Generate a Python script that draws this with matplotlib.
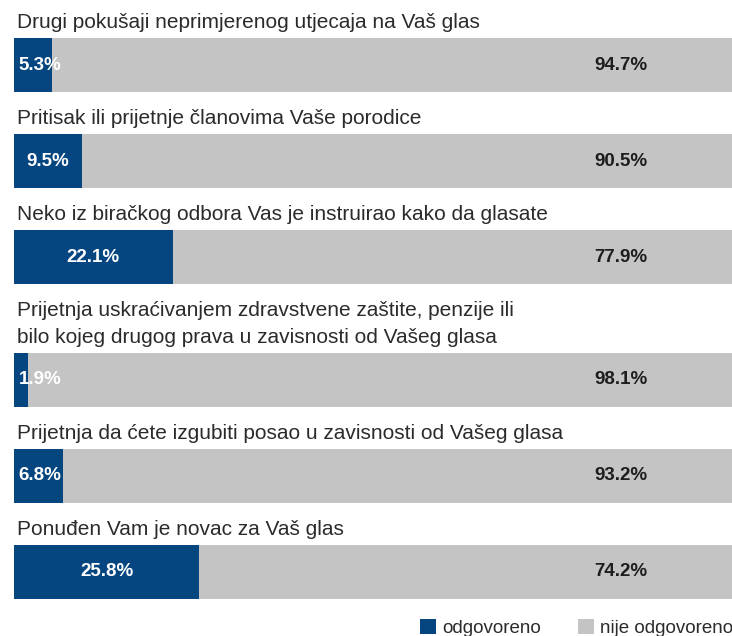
import matplotlib
matplotlib.use("Agg")
import matplotlib.pyplot as plt
from matplotlib.patches import Patch

plt.rcParams['font.family'] = ['Liberation Sans', 'DejaVu Sans']

titles = [
    ["Drugi pokušaji neprimjerenog utjecaja na Vaš glas"],
    ["Pritisak ili prijetnje članovima Vaše porodice"],
    ["Neko iz biračkog odbora Vas je instruirao kako da glasate"],
    ["Prijetnja uskraćivanjem zdravstvene zaštite, penzije ili",
     "bilo kojeg drugog prava u zavisnosti od Vašeg glasa"],
    ["Prijetnja da ćete izgubiti posao u zavisnosti od Vašeg glasa"],
    ["Ponuđen Vam je novac za Vaš glas"],
]
answered = [5.3, 9.5, 22.1, 1.9, 6.8, 25.8]
not_answered = [94.7, 90.5, 77.9, 98.1, 93.2, 74.2]
series_names = ["odgovoreno", "nije odgovoreno"]

BLUE = "#054580"
GREY = "#c4c4c4"
TITLE_COL = "#2b2b2b"

W, H = 732, 636
fig = plt.figure(figsize=(W / 100, H / 100), dpi=100)
left_px = 14
ax = fig.add_axes([left_px / W, 0, (W - left_px) / W, 1])
ax.set_xlim(0, 100)
ax.set_ylim(H, 0)
ax.axis('off')

bar_h = 54
line_h = 27
gap = 42
top = 38
for i, (t, a, n) in enumerate(zip(titles, answered, not_answered)):
    nlines = len(t)
    if i > 0:
        top += gap + line_h * (nlines - 1)
    yc = top + bar_h / 2
    ax.barh(yc, a, height=bar_h, left=0, color=BLUE, linewidth=0)
    ax.barh(yc, n, height=bar_h, left=a, color=GREY, linewidth=0)
    for j, line in enumerate(t):
        ax.text(0.4, top - 10 - line_h * (nlines - 1 - j), line,
                fontsize=15, color=TITLE_COL, va='baseline', ha='left')
    ax.text(max(a / 2, 3.6), yc, f"{a:.1f}%", color='white', fontsize=13.5,
            fontweight='bold', ha='center', va='center')
    ax.text(88.2, yc, f"{n:.1f}%", color='#1e1e1e', fontsize=13.5,
            fontweight='bold', ha='right', va='center')
    top += bar_h

handles = [Patch(facecolor=BLUE, edgecolor='none'),
           Patch(facecolor=GREY, edgecolor='none')]
fig.legend(handles, series_names, loc='upper right', ncol=2, frameon=False,
           bbox_to_anchor=(1.0 + 14 / W, 1 - 606 / H), fontsize=13.5,
           handlelength=0.85, handleheight=0.85, handletextpad=0.3,
           columnspacing=2.0, borderpad=0.2, labelcolor=TITLE_COL)

fig.savefig("out.png", dpi=100)
